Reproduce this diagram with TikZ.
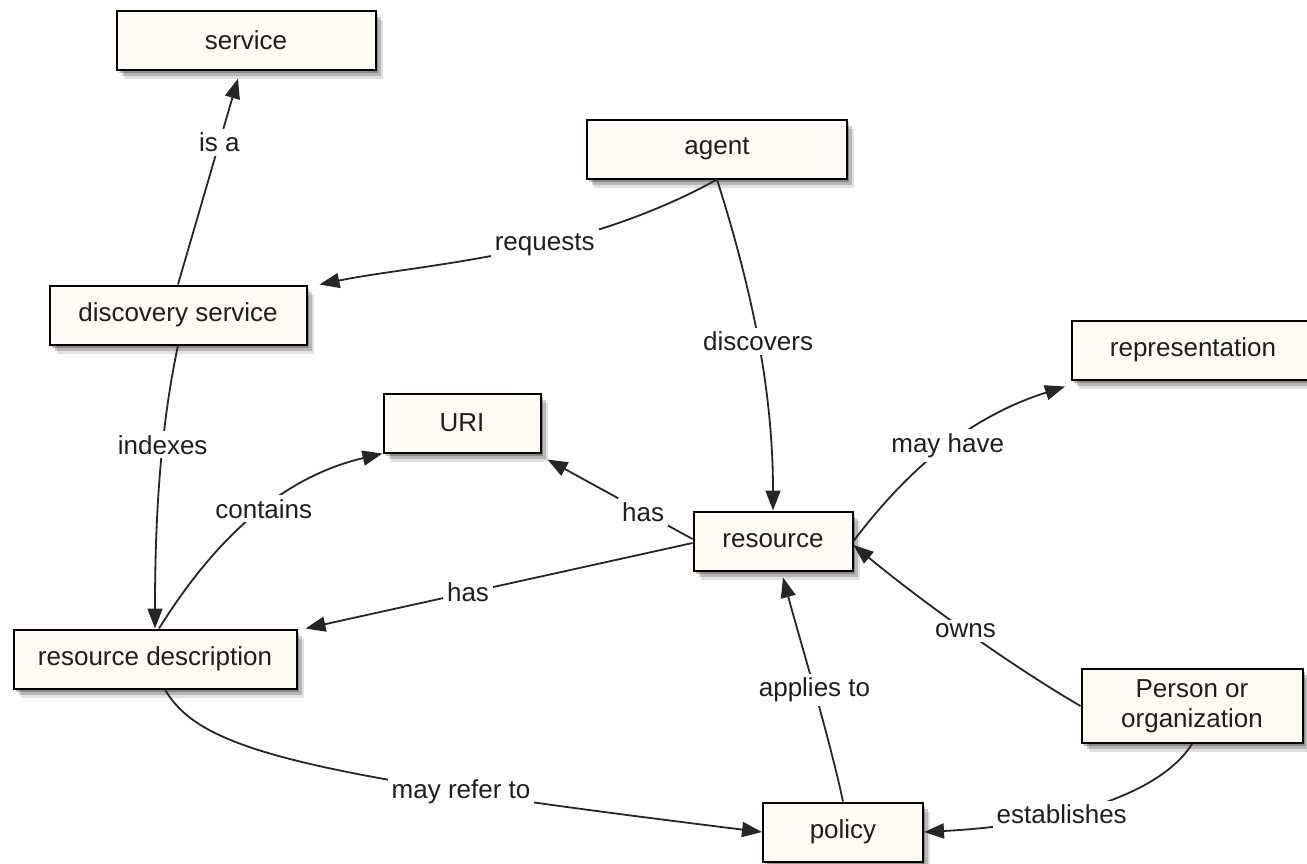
\documentclass[tikz,border=0pt]{standalone}
\usepackage{fontspec}
\setmainfont{Liberation Sans}
\usetikzlibrary{arrows.meta,shadows}
\definecolor{boxfill}{HTML}{FDFBF3}
\definecolor{inkgray}{HTML}{1E1E1E}

\begin{document}
\begin{tikzpicture}[x=0.5pt, y=-0.5pt,
        concept/.style={draw=black, line width=1pt, fill=boxfill, minimum height=29.5pt, text=inkgray,
            font=\fontsize{13}{15}\selectfont, align=center,
            drop shadow={shadow xshift=3.5pt, shadow yshift=-4.5pt, opacity=0.12, fill=black},
            drop shadow={shadow xshift=2.5pt, shadow yshift=-3pt, opacity=0.18, fill=black},
            drop shadow={shadow xshift=1.2pt, shadow yshift=-1.6pt, opacity=0.25, fill=black}},
        link/.style={draw=black!85, line width=0.9pt, -{Triangle[length=10pt, width=7.5pt]}},
        rel/.style={fill=white, text=inkgray, font=\fontsize{13}{15}\selectfont, inner sep=2pt}]
        \useasboundingbox[fill=white] (0,0) rectangle (1307,863);
        % concepts
        \node[concept, minimum width=129.5pt] (service) at (246,40) {service};
        \node[concept, minimum width=130pt] (agent) at (717,149) {agent};
        \node[concept, minimum width=128.5pt] (discovery) at (178,315) {discovery service};
        \node[concept, minimum width=121pt] (representation) at (1193,350) {representation};
        \node[concept, minimum width=78.5pt] (uri) at (462,423) {URI};
        \node[concept, minimum width=79.5pt] (resource) at (773,541) {resource};
        \node[concept, minimum width=141.5pt] (resdesc) at (155,659) {resource description};
        \node[concept, minimum width=110.5pt, minimum height=37pt] (person) at (1192,706) {Person or\\organization};
        \node[concept, minimum width=80pt] (policy) at (843,832) {policy};
        % relations
        \draw[link] (discovery.north) -- ([xshift=-4pt, yshift=-4pt]service.south) node[rel, pos=.69] {is a};
        \draw[link] (agent.south) .. controls (575,258) and (420,264) .. ([xshift=6pt]discovery.north east) node[rel, pos=.4] {requests};
        \draw[link] (agent.south) .. controls (752,290) and (773,390) .. (resource.north) node[rel, pos=.5] {discovers};
        \draw[link] (discovery.south) .. controls (160,430) and (155,520) .. (resdesc.north) node[rel, pos=.38] {indexes};
        \draw[link] ([xshift=2pt]resdesc.north) .. controls (205,555) and (270,480) .. (uri.south west) node[rel, pos=.58] {contains};
        \draw[link] ([yshift=1pt]resource.west) -- ([xshift=3pt, yshift=-3pt]uri.south east) node[rel, pos=.34] {has};
        \draw[link] ([yshift=-1pt]resource.west) -- ([xshift=4pt]resdesc.north east) node[rel, pos=.58] {has};
        \draw[link] (resource.east) .. controls (900,480) and (960,420) .. ([xshift=-3pt, yshift=-3pt]representation.south west) node[rel, pos=.55] {may have};
        \draw[link] (person.west) .. controls (1010,665) and (920,600) .. ([yshift=-2pt]resource.east) node[rel, pos=.5] {owns};
        \draw[link] (policy.north) .. controls (830,740) and (800,640) .. ([xshift=5pt, yshift=-3pt]resource.south) node[rel, pos=.5] {applies to};
        \draw[link] ([xshift=5pt]resdesc.south) .. controls (200,750) and (300,775) .. (policy.west) node[rel, pos=.73] {may refer to};
        \draw[link] (person.south) .. controls (1160,795) and (1060,825) .. (policy.east) node[rel, pos=.62] {establishes};
\end{tikzpicture}
\end{document}
